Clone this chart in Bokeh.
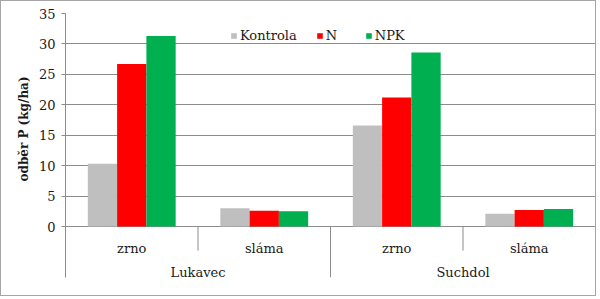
import math
from bokeh.plotting import figure
from bokeh.models import (Range1d, FixedTicker, Legend, LegendItem, Title,
                          ColumnDataSource)
from bokeh.transform import dodge
from bokeh.core.properties import value
from bokeh.embed import file_html
from bokeh.resources import INLINE

# ---- data ----
sites = ["Lukavec", "Suchdol"]
parts = ["zrno", "sláma"]
series = ["Kontrola", "N", "NPK"]
kontrola = [10.3, 3.0, 16.6, 2.1]
n_vals = [26.7, 2.6, 21.2, 2.7]
npk_vals = [31.3, 2.5, 28.6, 2.9]
y_ticks = [0, 5, 10, 15, 20, 25, 30, 35]
colors = ["#bfbfbf", "#ff0000", "#00b050"]

FONT = "DejaVu Serif"
FS = "13px"
GRID = "#8c8c8c"
TXT = "#1a1a1a"

n_cat = len(sites) * len(parts)
centers = [i + 0.5 for i in range(n_cat)]
src = ColumnDataSource(dict(x=centers, Kontrola=kontrola, N=n_vals, NPK=npk_vals))

p = figure(width=596, height=296, output_backend="svg", toolbar_location=None,
           x_range=Range1d(0, n_cat), y_range=Range1d(-8.37, 35),
           min_border_left=64, min_border_right=2, min_border_top=12,
           min_border_bottom=20)
p.styles = {"border": "1px solid #a6a6a6"}
p.outline_line_color = None
p.background_fill_color = "white"
p.xaxis.visible = False
p.xgrid.visible = False

ax = p.yaxis[0]
ax.ticker = FixedTicker(ticks=y_ticks)
ax.axis_line_color = GRID
ax.major_tick_line_color = GRID
ax.major_tick_out = 4
ax.major_tick_in = 0
ax.minor_tick_line_color = None
ax.major_label_standoff = 6
ax.major_label_text_font = FONT
ax.major_label_text_font_size = FS
ax.major_label_text_color = TXT
p.ygrid.ticker = FixedTicker(ticks=y_ticks)
p.ygrid.grid_line_color = GRID

bw = 0.221
offsets = [-bw, 0.0, bw]
renderers = []
for s, c, off in zip(series, colors, offsets):
    r = p.vbar(x=dodge("x", off, range=p.x_range), top=s, width=bw, bottom=0,
               source=src, fill_color=c, line_color=None)
    renderers.append(r)

inner_x = [i * len(parts) + j for i in range(len(sites)) for j in range(1, len(parts))]
outer_x = [i * len(parts) for i in range(len(sites) + 1)]
p.segment(x0=inner_x, x1=inner_x, y0=[0] * len(inner_x), y1=[-3.95] * len(inner_x),
          line_color=GRID, line_width=1)
p.segment(x0=outer_x, x1=outer_x, y0=[0] * len(outer_x), y1=[-8.37] * len(outer_x),
          line_color=GRID, line_width=1)

sub_labels = [pt for _ in sites for pt in parts]
p.text(x=centers, y=[0] * n_cat, text=sub_labels, y_offset=22,
       text_align="center", text_baseline="alphabetic",
       text_font=value(FONT), text_font_size=FS, text_color=TXT)
site_x = [i * len(parts) + len(parts) / 2 for i in range(len(sites))]
p.text(x=site_x, y=[0] * len(sites), text=sites, y_offset=46,
       text_align="center", text_baseline="alphabetic",
       text_font=value(FONT), text_font_size=FS, text_color=TXT)

p.add_layout(Title(text="odběr P (kg/ha)", align="left", offset=96,
                   text_font=FONT, text_font_size="12px", text_font_style="bold",
                   text_color=TXT, standoff=10), "left")

legend = Legend(items=[LegendItem(label=s, renderers=[r]) for s, r in zip(series, renderers)],
                orientation="horizontal", location=(165, 234),
                glyph_width=7, glyph_height=7, label_standoff=3, spacing=19,
                padding=0, margin=0, label_height=14,
                label_text_font=FONT, label_text_font_size=FS,
                label_text_color=TXT,
                border_line_color=None, background_fill_alpha=0)
p.add_layout(legend)

open("out.html", "w").write(file_html(p, INLINE))
